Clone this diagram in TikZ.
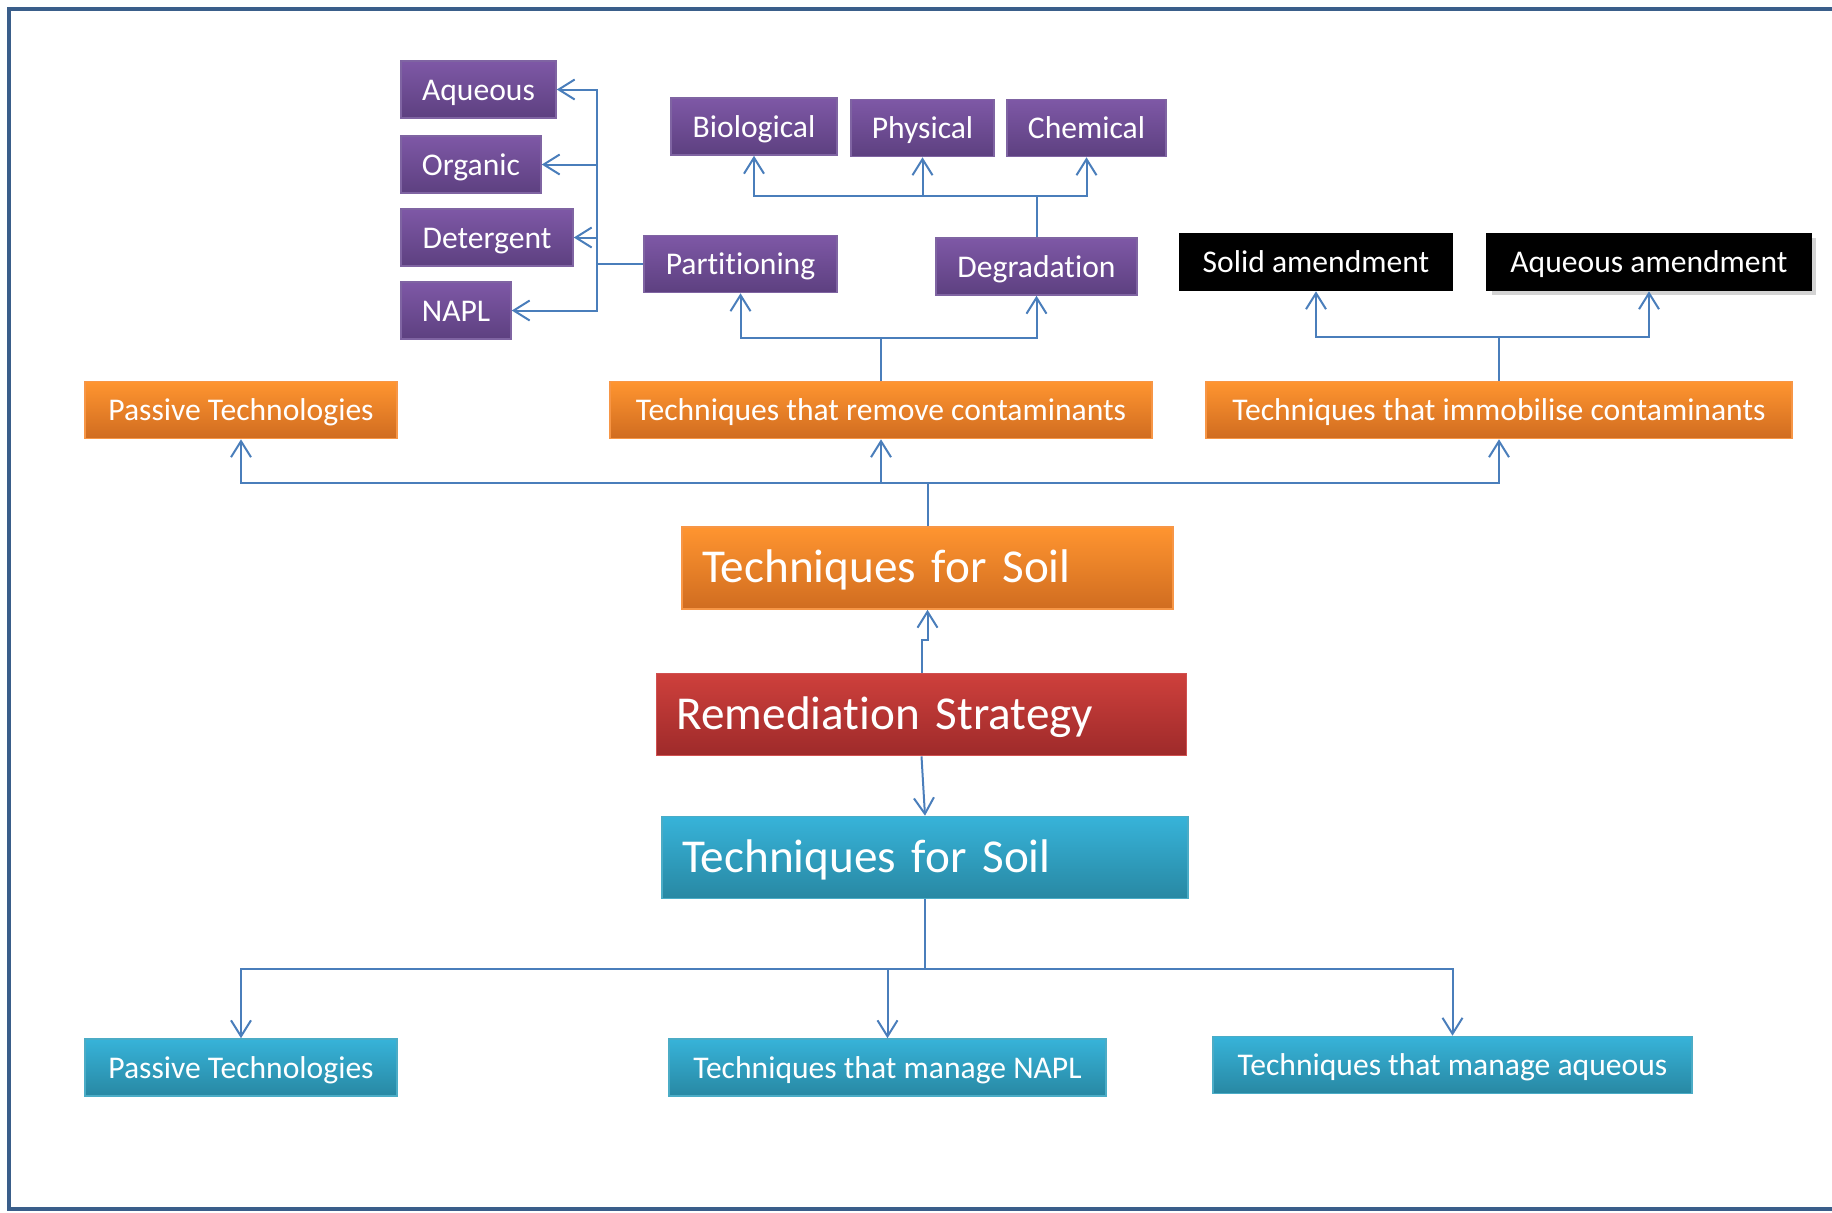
\documentclass[tikz,border=0pt]{standalone}
\usepackage{fontspec}
\setmainfont{Carlito}[Ligatures={NoCommon}]
\usetikzlibrary{arrows.meta,shadows}

\definecolor{linkblue}{HTML}{4A7EBB}
\definecolor{framecol}{HTML}{3A5E8A}
\definecolor{purpletop}{HTML}{7E58A6}
\definecolor{purplebot}{HTML}{5D4080}
\definecolor{purpleline}{HTML}{7F64A2}
\definecolor{orangetop}{HTML}{FF9530}
\definecolor{orangebot}{HTML}{D06C20}
\definecolor{orangeline}{HTML}{F79646}
\definecolor{redtop}{HTML}{CE403C}
\definecolor{redbot}{HTML}{9E2A2A}
\definecolor{redline}{HTML}{D05050}
\definecolor{bluetop}{HTML}{37B3D9}
\definecolor{bluebot}{HTML}{2888A3}
\definecolor{blueline}{HTML}{4BACC6}

\tikzset{
  box/.style={text=white, inner sep=0pt, minimum height=28.5pt, line width=0.8pt,
    text height=14pt, text depth=3.5pt, font=\fontsize{15.8}{19}\selectfont},
  purplebox/.style={box, draw=purpleline, top color=purpletop, bottom color=purplebot},
  blackbox/.style={box, draw=black, fill=black},
  orangebox/.style={box, draw=orangeline, top color=orangetop, bottom color=orangebot},
  bluebox/.style={box, draw=blueline, top color=bluetop, bottom color=bluebot},
  bigbox/.style={minimum height=41pt, inner xsep=10pt, align=left,
    text height=20pt, text depth=5.5pt, font=\fontsize{23.6}{28}\selectfont},
  link/.style={draw=linkblue, line width=1pt, -{Straight Barb[length=8pt,width=10pt]}}
}

\begin{document}
\begin{tikzpicture}[x=0.5pt, y=-0.5pt]
\useasboundingbox (0,0) rectangle (1832,1212);

% Outer frame
\draw[framecol, line width=2pt] (1900,9) -- (9,9) -- (9,1209) -- (1900,1209);

% Phases (purple)
\node[purplebox, minimum width=77.5pt] (aqueous) at (478.5,89.5) {Aqueous};
\node[purplebox, minimum width=70pt] (organic) at (471,164.5) {Organic};
\node[purplebox, minimum width=86pt] (detergent) at (487,237.5) {Detergent};
\node[purplebox, minimum width=55pt] (napl) at (456,310.5) {NAPL};
\node[purplebox, minimum width=96.5pt] (partition) at (740.5,264) {Partitioning};

% Degradation types
\node[purplebox, minimum width=83pt] (biological) at (754,126.5) {Biological};
\node[purplebox, minimum width=71.5pt] (physical) at (922.5,128) {Physical};
\node[purplebox, minimum width=79.5pt] (chemical) at (1086.5,128) {Chemical};
\node[purplebox, minimum width=100.5pt] (degradation) at (1036.5,266.5) {Degradation};

% Amendments (black)
\node[blackbox, minimum width=136pt] (solidam) at (1316,262) {Solid amendment};
\node[blackbox, minimum width=162pt, drop shadow={opacity=0.35}] (aqueousam) at (1649,262) {Aqueous amendment};

% Upper level (orange)
\node[orangebox, minimum width=156pt] (passiveup) at (241,410) {Passive Technologies};
\node[orangebox, minimum width=271pt] (remove) at (881,410) {Techniques that remove contaminants};
\node[orangebox, minimum width=293pt] (immob) at (1499,410) {Techniques that immobilise contaminants};
\node[orangebox, bigbox, text width=225.5pt] (soilup) at (927.5,568) {Techniques for Soil};

% Strategy (red)
\node[box, bigbox, draw=redline, top color=redtop, bottom color=redbot, text width=245pt] (remed) at (921.5,714.5) {Remediation Strategy};

% Lower level (blue)
\node[bluebox, bigbox, text width=243pt] (soildown) at (925,857.5) {Techniques for Soil};
\node[bluebox, minimum width=156pt] (passivedown) at (241,1067.5) {Passive Technologies};
\node[bluebox, minimum width=218.5pt] (managenapl) at (887.5,1067.5) {Techniques that manage NAPL};
\node[bluebox, minimum width=239.5pt] (manageaq) at (1452.5,1065) {Techniques that manage aqueous};

% Upper tree
\coordinate (busTop) at (927.5,483);
\draw[link] (soilup.north) -- (busTop) -| (passiveup.south);
\draw[link] (busTop) -| (remove.south);
\draw[link] (busTop) -| (immob.south);

\coordinate (busRemove) at (881,338);
\draw[link] (remove.north) -- (busRemove) -| (partition.south);
\draw[link] (busRemove) -| (degradation.south);

\coordinate (busDeg) at (1036.5,196);
\draw[link] (degradation.north) -- (busDeg) -| (biological.south);
\draw[link] (busDeg) -| (physical.south);
\draw[link] (busDeg) -| (chemical.south);

\coordinate (busPart) at (597,264);
\draw[link] (partition.west) -- (busPart) |- (aqueous.east);
\draw[link] (busPart) |- (organic.east);
\draw[link] (busPart) |- (detergent.east);
\draw[link] (busPart) |- (napl.east);

\coordinate (busImm) at (1499,337);
\draw[link] (immob.north) -- (busImm) -| (solidam.south);
\draw[link] (busImm) -| (aqueousam.south);

% Strategy links
\coordinate (jog) at (927.5,640);
\draw[link] (remed.north) |- (jog) -- (soilup.south);
\draw[link] (remed.south) -- (soildown.north);

% Lower tree
\coordinate (busLow) at (925,969);
\draw[link] (soildown.south) -- (busLow) -| (passivedown.north);
\draw[link] (busLow) -| (managenapl.north);
\draw[link] (busLow) -| (manageaq.north);

\end{tikzpicture}
\end{document}
